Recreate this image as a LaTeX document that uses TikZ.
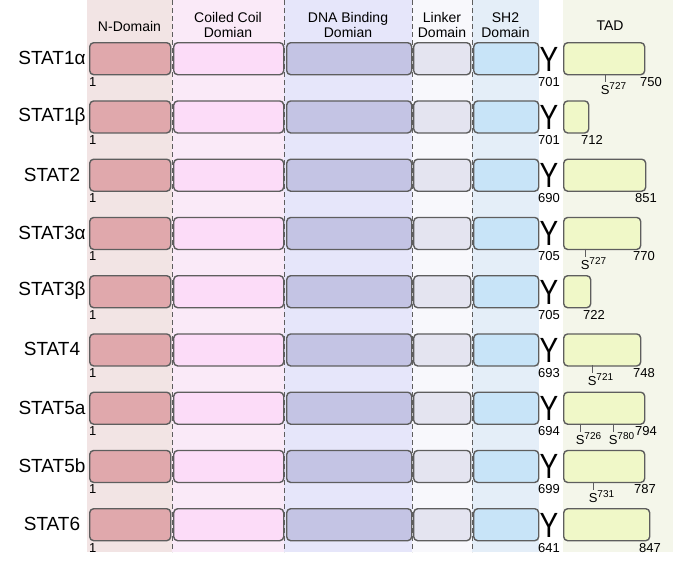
\documentclass[tikz,border=0pt]{standalone}
\usepackage{fontspec}
\setmainfont{Liberation Sans}
\definecolor{bgN}{HTML}{F2E4E4}
\definecolor{bgCC}{HTML}{FAEAF8}
\definecolor{bgDNA}{HTML}{E6E6FA}
\definecolor{bgLink}{HTML}{F8F8FC}
\definecolor{bgSH}{HTML}{E4EEF8}
\definecolor{bgTAD}{HTML}{F4F6EA}
\definecolor{fN}{HTML}{E0A8AC}
\definecolor{fCC}{HTML}{FCDCF8}
\definecolor{fDNA}{HTML}{C4C4E4}
\definecolor{fLink}{HTML}{E4E4F0}
\definecolor{fSH}{HTML}{C8E4F8}
\definecolor{fTAD}{HTML}{F0F8C8}
\definecolor{edge}{HTML}{5E5E5E}
\newcommand{\supnum}[1]{\raisebox{5pt}{\fontsize{10}{10}\selectfont #1}}
\tikzset{
  dombox/.style={draw=edge, line width=1.4pt, rounded corners=4pt, inner sep=0pt, minimum height=32pt, anchor=north west},
  divider/.style={draw=edge, line width=0.9pt, dash pattern=on 5pt off 3pt},
  hdr/.style={font=\fontsize{14}{14.5}\selectfont, align=center, inner sep=0pt},
  statlab/.style={font=\fontsize{19}{20}\selectfont, inner sep=0pt},
  numlab/.style={font=\fontsize{13}{13}\selectfont, inner sep=0pt, anchor=base},
  ylab/.style={font=\fontsize{35}{35}\selectfont, inner sep=0pt},
  slab/.style={font=\fontsize{13}{13}\selectfont, inner sep=0pt, anchor=base west},
  tickline/.style={draw=edge, line width=1pt}
}
\begin{document}
\begin{tikzpicture}[x=1pt,y=-1pt]
\useasboundingbox (0,0) rectangle (685,562);
% column backgrounds
\fill[bgN] (87,0) rectangle (172,552);
\fill[bgCC] (172,0) rectangle (284,552);
\fill[bgDNA] (284,0) rectangle (412,552);
\fill[bgLink] (412,0) rectangle (472,552);
\fill[bgSH] (472,0) rectangle (539,552);
\fill[bgTAD] (563,0) rectangle (673,552);
% dividers
\foreach \x in {172,284,412,472} \draw[divider] (\x,0) -- (\x,552);
% headers
\node[hdr] (hN) at (129.5,26) {N-Domain};
\node[hdr] (hCC) at (228,25) {Coiled Coil\\Domian};
\node[hdr] (hDNA) at (348,25) {DNA Binding\\Domian};
\node[hdr] (hLink) at (442,25) {Linker\\Domain};
\node[hdr] (hSH) at (505.5,25) {SH2\\Domain};
\node[hdr] (hTAD) at (610,26) {TAD};
% rows
\foreach \i/\lab/\ynum/\tr/\ex/\en in {
  1/STAT1α/701/644/651/750,
  2/STAT1β/701/588/592/712,
  3/STAT2/690/645/646/851,
  4/STAT3α/705/640/644/770,
  5/STAT3β/705/590/594/722,
  6/STAT4/693/640/644/748,
  7/STAT5a/694/644/646/794,
  8/STAT5b/699/644/645/787,
  9/STAT6/641/649/650/847}{
  \pgfmathsetmacro\yt{42+58.25*(\i-1)}
  \pgfmathsetmacro\yb{\yt+32}
  \pgfmathsetmacro\yc{\yt+16}
  \pgfmathsetmacro\tw{\tr-563}
  \node[statlab] (lab\i) at (52,\yc) {\lab};
  \node[dombox, fill=fN, minimum width=81pt] (n\i) at (89,\yt) {};
  \node[dombox, fill=fCC, minimum width=110pt] (cc\i) at (173,\yt) {};
  \node[dombox, fill=fDNA, minimum width=125pt] (dna\i) at (286,\yt) {};
  \node[dombox, fill=fLink, minimum width=57pt] (lk\i) at (413,\yt) {};
  \node[dombox, fill=fSH, minimum width=65pt] (sh\i) at (473,\yt) {};
  \node[ylab] (y\i) at (549,\yc+1) {\scalebox{0.8}[1]{Y}};
  \node[dombox, fill=fTAD, minimum width=\tw pt] (tad\i) at (563,\yt) {};
  \node[numlab, anchor=base west] (one\i) at (89,\yb+12) {1};
  \node[numlab] (yn\i) at (549,\yb+12) {\ynum};
  \node[numlab] (en\i) at (\ex,\yb+12) {\en};
}
% serine ticks
\foreach \i/\tx/\sn in {1/605/727, 4/585/727, 6/592/721, 7/580/726, 7/613/780, 8/593/731}{
  \pgfmathsetmacro\yb{42+58.25*(\i-1)+32}
  \coordinate (tk\i-\tx) at (\tx,\yb);
  \coordinate (te\i-\tx) at (\tx,\yb+8);
  \draw[tickline] (tk\i-\tx) -- (te\i-\tx);
  \node[slab] (s\i-\tx) at (\tx-4.4,\yb+20.5) {S\supnum{\sn}};
}
\end{tikzpicture}
\end{document}
